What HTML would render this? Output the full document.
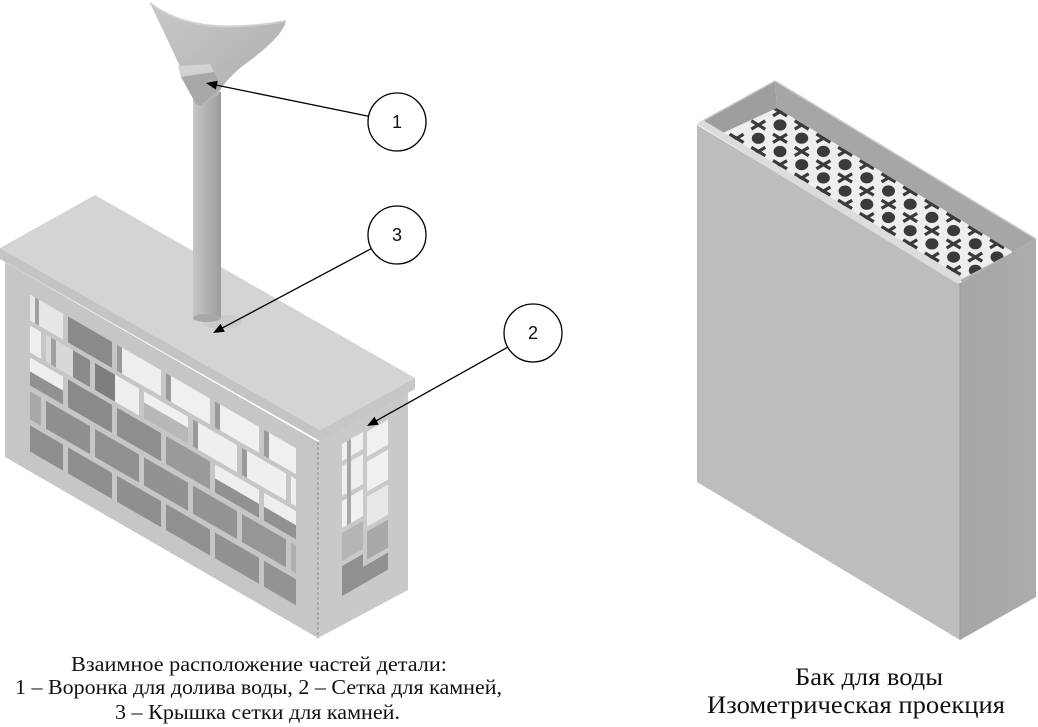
<!DOCTYPE html>
<html><head><meta charset="utf-8"><style>
html,body{margin:0;padding:0;background:#fff;}
svg{display:block;}
</style></head><body>
<svg width="1038" height="727" viewBox="0 0 1038 727" xmlns="http://www.w3.org/2000/svg">
<defs>
<linearGradient id="pipe" x1="0" x2="1" y1="0" y2="0">
<stop offset="0" stop-color="#c6c6c6"/><stop offset="0.45" stop-color="#b4b4b4"/><stop offset="1" stop-color="#9c9c9c"/>
</linearGradient>
<linearGradient id="bowl" x1="0" y1="0" x2="1" y2="1">
<stop offset="0" stop-color="#c8c8c8"/><stop offset="1" stop-color="#adadad"/>
</linearGradient>
<linearGradient id="rside" x1="0" x2="1" y1="0" y2="0">
<stop offset="0" stop-color="#a6a6a6"/><stop offset="1" stop-color="#acacac"/>
</linearGradient>
<linearGradient id="wg" x1="0" y1="0" x2="0" y2="1">
<stop offset="0" stop-color="#eeeeee"/><stop offset="0.5" stop-color="#eeeeee"/><stop offset="0.5" stop-color="#919191"/><stop offset="1" stop-color="#919191"/>
</linearGradient>
<clipPath id="grate"><polygon points="723,133 777,108 1013,252 960,280"/></clipPath>
<g id="xm"><path d="M-7,-4.2 L7,4.2 M-7,4.1 L7,-4.1" stroke="#3a3a3a" stroke-width="3.2" fill="none"/></g>
<ellipse id="cm" cx="0" cy="0" rx="6.5" ry="5.6" fill="#3a3a3a"/>
</defs>

<!-- ===== LEFT BOX BODY ===== -->
<polygon points="5,262 318,442 318,638 5,457" fill="#c6c6c6"/>
<g transform="matrix(1,0.578,0,1,5,262)">
  <!-- row1 -->
  <rect x="25" y="18" width="33" height="26" fill="#e6e6e6"/>
  <rect x="30" y="18" width="4" height="26" fill="#a0a0a0"/>
  <rect x="63" y="18" width="44" height="26" fill="#8a8a8a"/>
  <rect x="112" y="18" width="44" height="26" fill="#eeeeee"/>
  <rect x="112" y="18" width="5" height="26" fill="#9a9a9a"/>
  <rect x="161" y="18" width="44" height="26" fill="#f0f0f0"/>
  <rect x="161" y="18" width="5" height="26" fill="#9a9a9a"/>
  <rect x="210" y="18" width="44" height="26" fill="#f0f0f0"/>
  <rect x="210" y="18" width="5" height="26" fill="#9a9a9a"/>
  <rect x="259" y="18" width="32" height="26" fill="#f0f0f0"/>
  <rect x="259" y="18" width="5" height="26" fill="#9a9a9a"/>
  <!-- row2 -->
  <rect x="25" y="49" width="11" height="27" fill="#eeeeee"/>
  <rect x="41" y="49" width="44" height="27" fill="#d8d8d8"/>
  <rect x="46" y="49" width="5" height="27" fill="#a0a0a0"/>
  <rect x="68" y="49" width="17" height="27" fill="#8a8a8a"/>
  <rect x="90" y="49" width="44" height="27" fill="#eeeeee"/>
  <rect x="90" y="49" width="20" height="27" fill="#7e7e7e"/>
  <rect x="139" y="49" width="44" height="27" fill="#f0f0f0"/>
  <rect x="139" y="60" width="44" height="16" fill="#b8b8b8"/>
  <rect x="188" y="49" width="44" height="27" fill="#efefef"/>
  <rect x="188" y="49" width="5" height="27" fill="#9a9a9a"/>
  <rect x="237" y="49" width="44" height="27" fill="#efefef"/>
  <rect x="237" y="49" width="5" height="27" fill="#9a9a9a"/>
  <rect x="286" y="49" width="5" height="27" fill="#eeeeee"/>
  <!-- row3 -->
  <rect x="25" y="81" width="33" height="28" fill="url(#wg)"/>
  <rect x="63" y="81" width="44" height="28" fill="#8a8a8a"/>
  <rect x="112" y="81" width="44" height="28" fill="#8e8e8e"/>
  <rect x="161" y="81" width="44" height="28" fill="#9a9a9a"/>
  <rect x="210" y="81" width="44" height="28" fill="url(#wg)"/>
  <rect x="259" y="81" width="32" height="28" fill="url(#wg)"/>
  <!-- row4 -->
  <rect x="25" y="115" width="11" height="28" fill="#a8a8a8"/>
  <rect x="41" y="115" width="44" height="28" fill="#8f8f8f"/>
  <rect x="90" y="115" width="44" height="28" fill="#909090"/>
  <rect x="139" y="115" width="44" height="28" fill="#929292"/>
  <rect x="188" y="115" width="44" height="28" fill="#939393"/>
  <rect x="237" y="115" width="44" height="28" fill="#969696"/>
  <rect x="286" y="115" width="5" height="28" fill="#b0b0b0"/>
  <!-- row5 -->
  <rect x="25" y="149" width="33" height="26" fill="#8e8e8e"/>
  <rect x="63" y="149" width="44" height="26" fill="#8e8e8e"/>
  <rect x="112" y="149" width="44" height="26" fill="#8f8f8f"/>
  <rect x="161" y="149" width="44" height="26" fill="#909090"/>
  <rect x="210" y="149" width="44" height="26" fill="#929292"/>
  <rect x="259" y="149" width="32" height="26" fill="#939393"/>
</g>
<!-- right face -->
<polygon points="318,442 408,390 408,590 318,638" fill="#c9c9c9"/>
<g transform="matrix(1,-0.578,0,1,318,442)">
  <rect x="24" y="16" width="21" height="17" fill="#f0f0f0"/>
  <rect x="24" y="38" width="21" height="30" fill="#eeeeee"/>
  <rect x="24" y="73" width="21" height="27" fill="#f0f0f0"/>
  <rect x="24" y="105" width="21" height="28" fill="#b5b5b5"/>
  <rect x="49" y="18" width="21" height="25" fill="#f0f0f0"/>
  <rect x="49" y="48" width="21" height="30" fill="#f0f0f0"/>
  <rect x="49" y="83" width="21" height="30" fill="#e8e8e8"/>
  <rect x="49" y="118" width="21" height="28" fill="#a9a9a9"/>
  <rect x="24" y="138" width="21" height="30" fill="#909090"/>
  <rect x="45" y="151" width="25" height="17" fill="#909090"/>
  <rect x="29" y="16" width="4" height="84" fill="#a8a8a8"/>
</g>
<line x1="318" y1="442" x2="318" y2="638" stroke="#8a8a8a" stroke-width="1" stroke-dasharray="3,2"/>

<!-- lid -->
<polygon points="0,248 320,430 320,441 0,259" fill="#c4c4c4"/>
<polygon points="320,430 415,378 415,389 320,441" fill="#c6c6c6"/>
<polygon points="0,248 95,195 415,378 320,430" fill="#d4d4d4"/>
<ellipse cx="222" cy="322" rx="20" ry="7" fill="#c8c8c8" opacity="0.7"/>

<!-- pipe -->
<rect x="193" y="92" width="28" height="226" fill="url(#pipe)"/>
<ellipse cx="207" cy="318" rx="14" ry="4" fill="#a8a8a8"/>

<!-- funnel -->
<path d="M150,3 C165,15 185,22 205,25 C230,28 260,26 286,21 C283,35 262,52 240,68 C230,77 222,85 218,95 L200,106 L196,104 C185,75 165,35 150,3 Z" fill="url(#bowl)"/>
<path d="M150,3 C165,15 185,22 205,25 C230,28 260,26 286,21" fill="none" stroke="#d0d0d0" stroke-width="2"/>
<polygon points="178,66 210,64 214,72 181,77" fill="#d2d2d2"/>
<polygon points="181,77 214,72 221,88 200,106 196,104" fill="#a8a8a8"/>

<!-- callouts -->
<g stroke="#000" stroke-width="1.3" fill="none">
  <line x1="368.6" y1="116.2" x2="214" y2="84.6"/>
  <line x1="371.4" y1="248.6" x2="221" y2="328.7"/>
  <line x1="507.7" y1="347.2" x2="375" y2="421.5"/>
  <circle cx="397" cy="122" r="29" fill="#fff"/>
  <circle cx="397" cy="235" r="29" fill="#fff"/>
  <circle cx="533" cy="333" r="29" fill="#fff"/>
</g>
<polygon points="206,83 217.7,80.8 215.9,89.6" fill="#000"/>
<polygon points="213,333 224.8,331.8 220.6,323.8" fill="#000"/>
<polygon points="367,426 378.8,424.6 374.4,416.7" fill="#000"/>
<g font-family="Liberation Sans, sans-serif" font-size="18" text-anchor="middle" fill="#111">
  <text x="397" y="128">1</text>
  <text x="397" y="241">3</text>
  <text x="533" y="339">2</text>
</g>

<!-- ===== RIGHT TANK ===== -->
<polygon points="697,125 960,283 960,640 697,482" fill="#bdbdbd"/>
<polygon points="960,283 1036,239 1036,597 960,640" fill="url(#rside)"/>
<line x1="960" y1="283" x2="960" y2="640" stroke="#999" stroke-width="1"/>
<polygon points="699,123 775,81 777,108 723,133" fill="#9e9e9e"/>
<polygon points="775,81 1036,239 1013,252 777,108" fill="#a6a6a6"/>
<polygon points="1036,239 1013,252 960,280 962,283" fill="#b0b0b0"/>
<line x1="775" y1="81" x2="1036" y2="239" stroke="#c8c8c8" stroke-width="1.5"/>
<line x1="699" y1="123" x2="775" y2="81" stroke="#c8c8c8" stroke-width="1.5"/>
<polygon points="723,133 777,108 1013,252 960,280" fill="#eeeeee"/>
<g clip-path="url(#grate)">
  <use href="#cm" x="758.3" y="138.3"/><use href="#cm" x="780" y="151.5"/><use href="#cm" x="801.7" y="164.7"/><use href="#cm" x="823.4" y="177.9"/><use href="#cm" x="845.1" y="191.1"/><use href="#cm" x="866.8" y="204.3"/><use href="#cm" x="888.5" y="217.5"/><use href="#cm" x="910.2" y="230.7"/><use href="#cm" x="931.9" y="243.9"/><use href="#cm" x="953.6" y="257.1"/><use href="#cm" x="975.3" y="270.3"/>
  <use href="#cm" x="780" y="125"/><use href="#cm" x="801.7" y="138.2"/><use href="#cm" x="823.4" y="151.4"/><use href="#cm" x="845.1" y="164.6"/><use href="#cm" x="866.8" y="177.8"/><use href="#cm" x="888.5" y="191"/><use href="#cm" x="910.2" y="204.2"/><use href="#cm" x="931.9" y="217.4"/><use href="#cm" x="953.6" y="230.6"/><use href="#cm" x="975.3" y="243.8"/><use href="#cm" x="997" y="257"/>
  <use href="#xm" x="758.3" y="125"/><use href="#xm" x="780" y="138.3"/><use href="#xm" x="801.7" y="151.5"/><use href="#xm" x="823.4" y="164.7"/><use href="#xm" x="845.1" y="177.9"/><use href="#xm" x="866.8" y="191.1"/><use href="#xm" x="888.5" y="204.3"/><use href="#xm" x="910.2" y="217.5"/><use href="#xm" x="931.9" y="230.7"/><use href="#xm" x="953.6" y="243.9"/><use href="#xm" x="975.3" y="257.1"/><use href="#xm" x="997" y="270.3"/>
  <use href="#xm" x="780" y="111.8"/><use href="#xm" x="801.7" y="125"/><use href="#xm" x="823.4" y="138.2"/><use href="#xm" x="845.1" y="151.4"/><use href="#xm" x="866.8" y="164.6"/><use href="#xm" x="888.5" y="177.8"/><use href="#xm" x="910.2" y="191"/><use href="#xm" x="931.9" y="204.2"/><use href="#xm" x="953.6" y="217.4"/><use href="#xm" x="975.3" y="230.6"/><use href="#xm" x="997" y="243.8"/><use href="#xm" x="1018.7" y="257"/>
  <use href="#xm" x="736.6" y="138.3"/><use href="#xm" x="758.3" y="151.5"/><use href="#xm" x="780" y="164.7"/><use href="#xm" x="801.7" y="177.9"/><use href="#xm" x="823.4" y="191.1"/><use href="#xm" x="845.1" y="204.3"/><use href="#xm" x="866.8" y="217.5"/><use href="#xm" x="888.5" y="230.7"/><use href="#xm" x="910.2" y="243.9"/><use href="#xm" x="931.9" y="257.1"/><use href="#xm" x="953.6" y="270.3"/><use href="#xm" x="975.3" y="283.5"/>
</g>
<polygon points="697,124 703,120 963,278 958,284" fill="#dcdcdc"/>

<!-- ===== CAPTIONS ===== -->
<g font-family="Liberation Serif, 'DejaVu Serif', serif" fill="#111">
  <text x="71" y="671" font-size="21.5" textLength="376" lengthAdjust="spacingAndGlyphs">Взаимное расположение частей детали:</text>
  <text x="15" y="694" font-size="21.5" textLength="487" lengthAdjust="spacingAndGlyphs">1 – Воронка для долива воды, 2 – Сетка для камней,</text>
  <text x="115" y="719" font-size="21.5" textLength="285" lengthAdjust="spacingAndGlyphs">3 – Крышка сетки для камней.</text>
  <text x="795" y="685" font-size="25" textLength="148" lengthAdjust="spacingAndGlyphs">Бак для воды</text>
  <text x="707" y="713" font-size="25" textLength="298" lengthAdjust="spacingAndGlyphs">Изометрическая проекция</text>
</g>
</svg>
</body></html>
